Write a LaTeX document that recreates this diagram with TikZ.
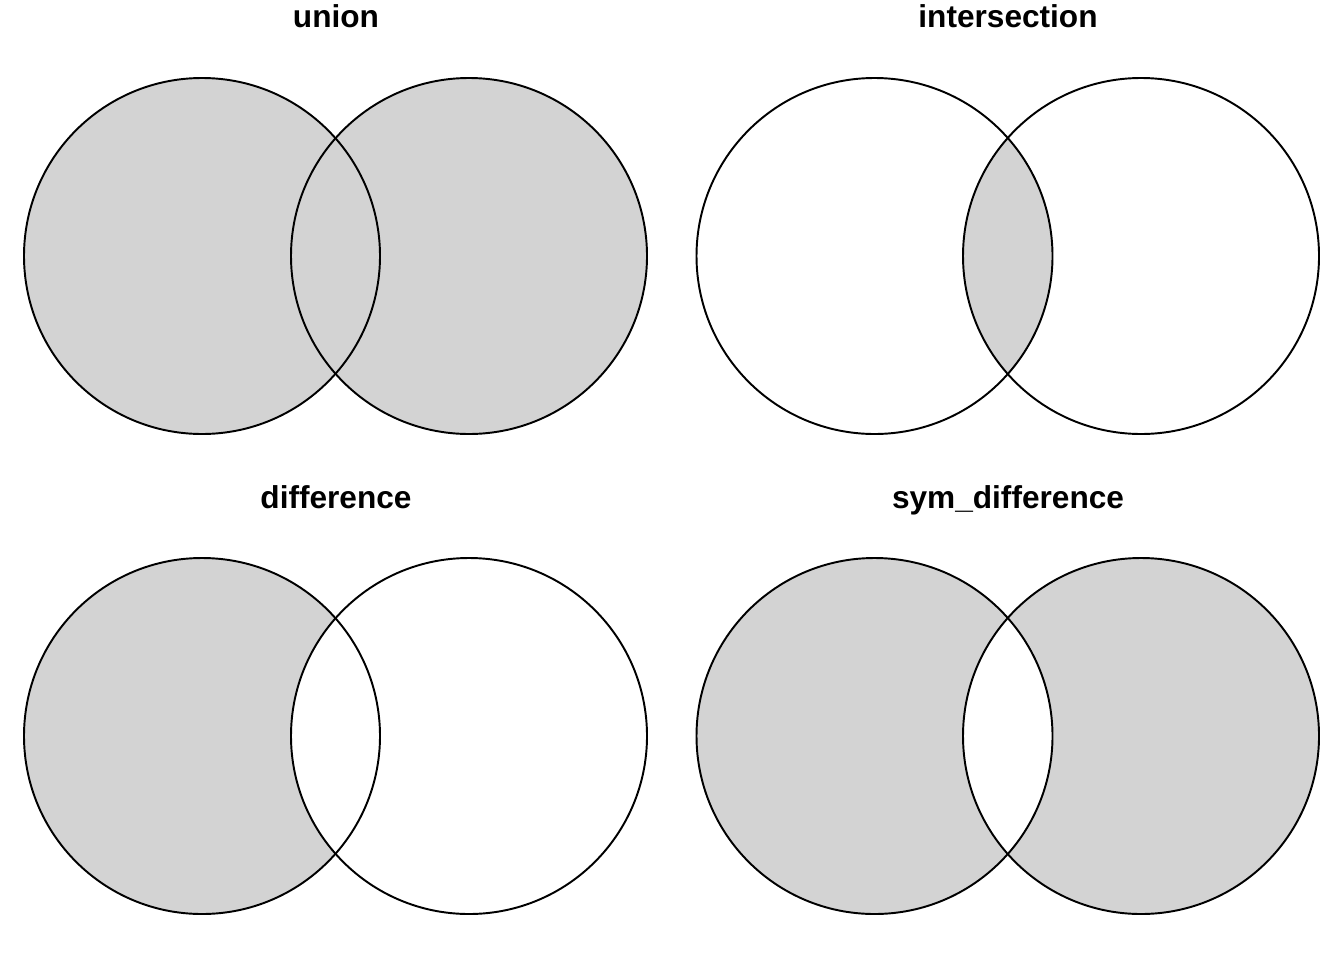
\documentclass[tikz,border=0pt]{standalone}
\usepackage{fontspec}
\setmainfont{Liberation Sans}
\usepackage{tikz}

\begin{document}
\begin{tikzpicture}[x=0.02cm,y=-0.02cm,line width=1.1pt,
    set title/.style={anchor=base,font=\fontsize{18}{20}\selectfont\bfseries},
    set fill/.style={fill=setgray}]
  \definecolor{setgray}{RGB}{211,211,211}
  \useasboundingbox (0,0) rectangle (1344,960);
  \def\rad{178}

  % centres of the eight circles
  \coordinate (ua) at (202,256);   \coordinate (ub) at (469,256);
  \coordinate (ia) at (874.5,256); \coordinate (ib) at (1141,256);
  \coordinate (da) at (202,736);   \coordinate (db) at (469,736);
  \coordinate (sa) at (874.5,736); \coordinate (sb) at (1141,736);

  % union
  \fill[set fill] (ua) circle (\rad) (ub) circle (\rad);
  % intersection
  \begin{scope}
    \clip (ia) circle (\rad);
    \fill[set fill] (ib) circle (\rad);
  \end{scope}
  % difference
  \fill[set fill] (da) circle (\rad);
  \begin{scope}
    \clip (da) circle (\rad);
    \fill[white] (db) circle (\rad);
  \end{scope}
  % symmetric difference
  \fill[set fill,even odd rule] (sa) circle (\rad) (sb) circle (\rad);

  \foreach \c in {ua,ub,ia,ib,da,db,sa,sb}
    \draw (\c) circle (\rad);

  \node[set title] (union) at (336,28) {union};
  \node[set title] (inter) at (1008,28) {intersection};
  \node[set title] (diff) at (336,508) {difference};
  \node[set title] (symdiff) at (1008,508) {sym\_difference};
\end{tikzpicture}
\end{document}
